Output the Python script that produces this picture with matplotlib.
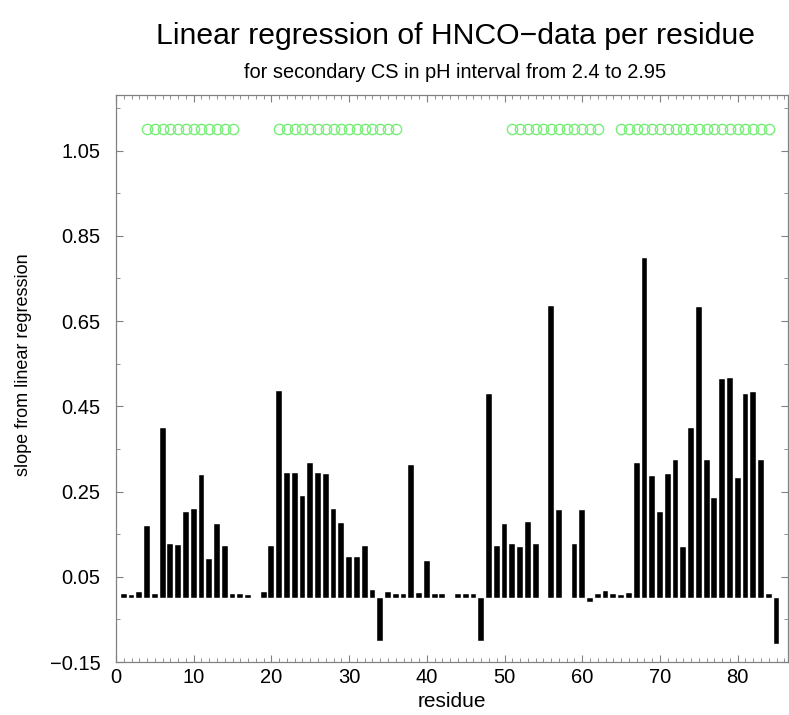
import numpy as np
import matplotlib
matplotlib.use("Agg")
import matplotlib.pyplot as plt
from matplotlib.ticker import MultipleLocator, FixedLocator

plt.rcParams["font.family"] = ["Liberation Sans", "DejaVu Sans"]

# slope per residue (55 and 58 have no value)
residues = [1, 2, 3, 4, 5, 6, 7, 8, 9, 10, 11, 12, 13, 14, 15, 16, 17, 18, 19, 20,
            21, 22, 23, 24, 25, 26, 27, 28, 29, 30, 31, 32, 33, 34, 35, 36, 37, 38, 39, 40,
            41, 42, 43, 44, 45, 46, 47, 48, 49, 50, 51, 52, 53, 54, 56, 57, 59, 60,
            61, 62, 63, 64, 65, 66, 67, 68, 69, 70, 71, 72, 73, 74, 75, 76, 77, 78, 79, 80,
            81, 82, 83, 84, 85]
slopes = [0.010, 0.008, 0.015, 0.169, 0.009, 0.400, 0.126, 0.125, 0.203, 0.209,
          0.289, 0.092, 0.173, 0.122, 0.009, 0.009, 0.007, 0.001, 0.014, 0.122,
          0.485, 0.293, 0.293, 0.240, 0.318, 0.294, 0.292, 0.210, 0.176, 0.096,
          0.096, 0.122, 0.018, -0.100, 0.014, 0.010, 0.009, 0.312, 0.013, 0.088,
          0.010, 0.010, 0.001, 0.009, 0.009, 0.010, -0.100, 0.480, 0.123, 0.174,
          0.126, 0.119, 0.178, 0.126, 0.685, 0.207, 0.128, 0.207,
          -0.009, 0.009, 0.016, 0.009, 0.008, 0.013, 0.317, 0.797, 0.287, 0.203,
          0.291, 0.324, 0.121, 0.399, 0.683, 0.325, 0.235, 0.513, 0.517, 0.282,
          0.480, 0.484, 0.325, 0.010, -0.107]

# secondary structure markers
helix_residues = (list(range(4, 16)) + list(range(21, 37))
                  + list(range(51, 63)) + list(range(65, 85)))
helix_level = 1.1

fig = plt.figure(figsize=(7.89, 7.15), dpi=100)
ax = fig.add_axes([0.147, 0.074, 0.852, 0.793])

ax.bar(residues, slopes, width=0.75, color="black", edgecolor="white", linewidth=0.3)
ax.plot(helix_residues, [helix_level] * len(helix_residues), "o", ms=7.4,
        mfc="none", mec="#77ee77", mew=1.0, ls="none")

ax.set_xlim(0, 86.5)
ax.set_ylim(-0.15, 1.18)
ax.xaxis.set_major_locator(MultipleLocator(10))
ax.xaxis.set_minor_locator(MultipleLocator(1))
ax.yaxis.set_major_locator(FixedLocator([-0.15, 0.05, 0.25, 0.45, 0.65, 0.85, 1.05]))
ax.yaxis.set_minor_locator(FixedLocator([-0.05, 0.15, 0.35, 0.55, 0.75, 0.95, 1.15]))
ax.set_yticklabels(["\u22120.15", "0.05", "0.25", "0.45", "0.65", "0.85", "1.05"])

ax.tick_params(which="both", direction="in", top=True, right=True, color="#808080",
               labelsize=14.5)
ax.tick_params(which="major", length=5, width=0.8)
ax.tick_params(which="minor", length=3, width=0.6)
ax.tick_params(axis="y", pad=11)
ax.tick_params(axis="x", pad=4)
for s in ax.spines.values():
    s.set_color("#808080")
    s.set_linewidth(0.9)

ax.set_xlabel("residue", fontsize=15)
ax.set_ylabel("slope from linear regression", fontsize=13)
ax.yaxis.set_label_coords(-0.125, 0.524)

fig.text(0.577, 0.949, "Linear regression of HNCO\u2212data per residue",
         ha="center", va="center", fontsize=21.7)
fig.text(0.577, 0.898, "for secondary CS in pH interval from 2.4 to 2.95",
         ha="center", va="center", fontsize=14.4)

fig.savefig("out.png", dpi=100)
